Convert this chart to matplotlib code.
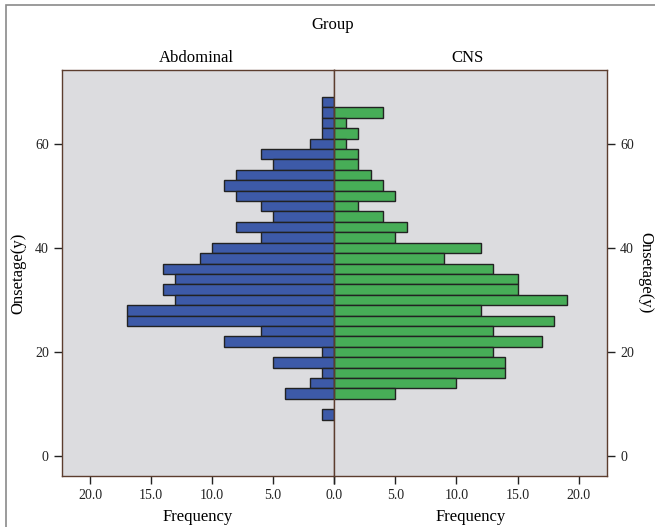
import numpy as np
import matplotlib.pyplot as plt
from matplotlib.patches import Rectangle

# bin centres of onset age (2-year bins)
ages = [68, 66, 64, 62, 60, 58, 56, 54, 52, 50, 48, 46, 44, 42, 40,
        38, 36, 34, 32, 30, 28, 26, 24, 22, 20, 18, 16, 14, 12, 10, 8]
abdominal = [1, 1, 1, 1, 2, 6, 5, 8, 9, 8, 6, 5, 8, 6, 10,
             11, 14, 13, 14, 13, 17, 17, 6, 9, 1, 5, 1, 2, 4, 0, 1]
cns = [0, 4, 1, 2, 1, 2, 2, 3, 4, 5, 2, 4, 6, 5, 12,
       9, 13, 15, 15, 19, 12, 18, 13, 17, 13, 14, 14, 10, 5, 0, 0]
xticks = [0, 5, 10, 15, 20]
yticks = [0, 20, 40, 60]

plt.rcParams['font.family'] = ['Liberation Serif', 'DejaVu Serif']
spine_col = '#5c3d2e'
bg = '#dcdcdf'

fig = plt.figure(figsize=(6.55, 5.27), dpi=100)
W, H = 655, 527
fig.patches.append(Rectangle((6 / W, -0.1), 1.2, 1 - 5 / H + 0.1, transform=fig.transFigure,
                             fill=False, edgecolor='#8a8a8a', linewidth=1.2))

left, mid, right = 62, 334, 607
top, bottom = 70, 476
axL = fig.add_axes([left / W, 1 - bottom / H, (mid - left) / W, (bottom - top) / H])
axR = fig.add_axes([mid / W, 1 - bottom / H, (right - mid) / W, (bottom - top) / H], sharey=axL)

xmax = (mid - left) / 12.2
for ax, vals, col in [(axL, abdominal, '#3d5aa8'), (axR, cns, '#47ad57')]:
    ax.set_facecolor(bg)
    v = np.array(vals)
    a = np.array(ages)
    m = v > 0
    ax.barh(a[m], v[m], height=2, color=col, edgecolor='#222222', linewidth=1.0)
    ax.set_xticks(xticks)
    for s in ax.spines.values():
        s.set_color(spine_col)
        s.set_linewidth(1.0)
    ax.tick_params(colors='#222222', which='both', length=6, width=1.0)

axL.set_xticklabels([f'{t:.1f}' for t in xticks], fontsize=10)
axR.set_xticklabels(['' if t == 0 else f'{t:.1f}' for t in xticks], fontsize=10)

axL.set_xlim(xmax, 0)
axR.set_xlim(0, xmax)
axL.set_ylim(-3.85, 74.2)
axL.set_yticks(yticks)
axL.tick_params(axis='y', labelsize=10)
axR.yaxis.tick_right()
axR.tick_params(axis='y', labelsize=10, labelright=True, labelleft=False)
axR.set_yticks(yticks)

axL.set_ylabel('Onsetage(y)', fontsize=12, labelpad=6)
axR.yaxis.set_label_position('right')
axR.set_ylabel('Onsetage(y)', fontsize=12, rotation=-90, labelpad=14)
axL.set_xlabel('Frequency', fontsize=12, labelpad=5)
axR.set_xlabel('Frequency', fontsize=12, labelpad=5)

fig.text(333 / W, 1 - 25 / H, 'Group', ha='center', va='center', fontsize=12)
fig.text(196 / W, 1 - 58 / H, 'Abdominal', ha='center', va='center', fontsize=12)
fig.text(467 / W, 1 - 58 / H, 'CNS', ha='center', va='center', fontsize=12)

fig.savefig('out.png', dpi=100)
